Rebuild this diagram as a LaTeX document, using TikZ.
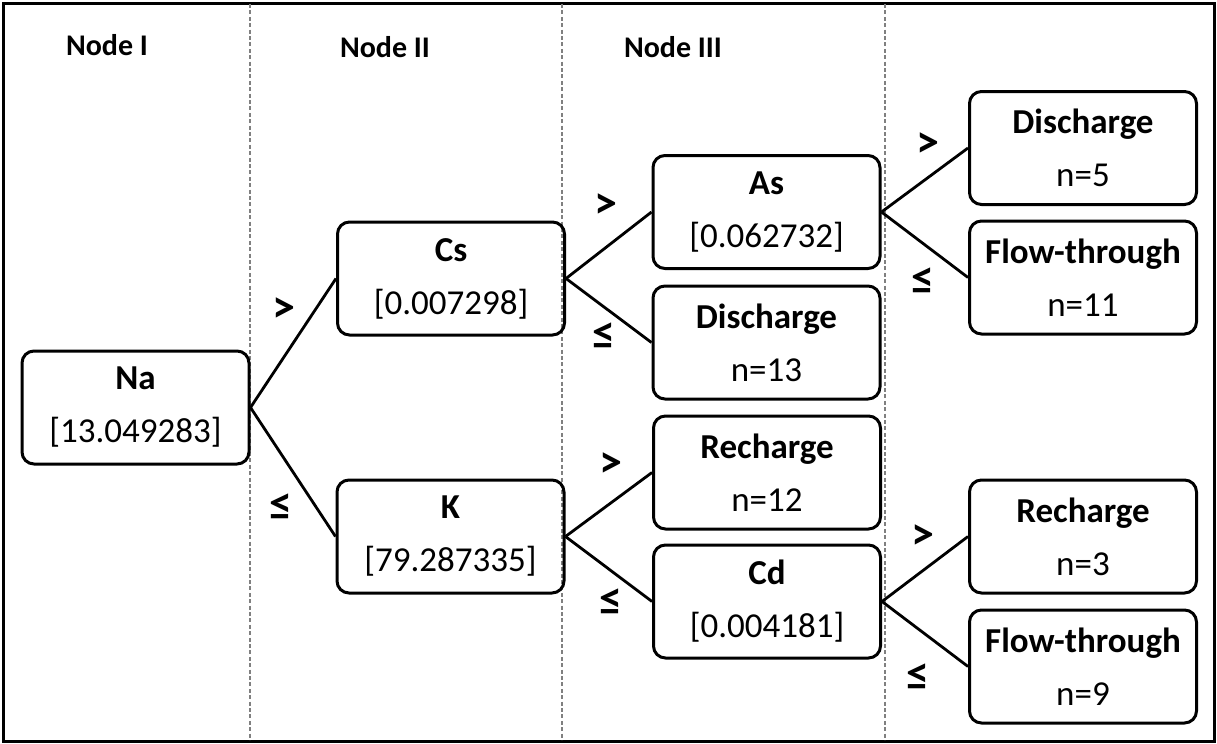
\documentclass[tikz,border=0pt]{standalone}
\usepackage{fontspec}
\setmainfont{Carlito}
\begin{document}
\begin{tikzpicture}[x=0.5pt,y=-0.5pt,
  box/.style={draw, line width=1.5pt, rounded corners=6pt, minimum width=113.5pt, minimum height=56.5pt, inner sep=0pt, align=center, font=\fontsize{17.5}{26.5}\selectfont},
  hdr/.style={font=\fontsize{15}{18}\selectfont\bfseries, inner sep=0pt},
  sgn/.style={font=\fontsize{23}{26}\selectfont\bfseries, inner sep=0pt},
  link/.style={line width=1.4pt},
  sep/.style={draw=gray, line width=0.6pt, dash pattern=on 2pt off 1.2pt},
  frame/.style={draw, line width=1.5pt}]
\useasboundingbox (0,0) rectangle (1217,744);
\draw[frame] (3,3) rectangle (1214,741);
\draw[sep] (250,4) -- (250,740);
\draw[sep] (562,4) -- (562,740);
\draw[sep] (885,4) -- (885,740);

\node[hdr] (h1) at (107,45) {Node I};
\node[hdr] (h2) at (385,47) {Node II};
\node[hdr] (h3) at (673,47) {Node III};

\node[box] (na) at (135.5,407.5) {\textbf{Na}\\{[13.049283]}};
\node[box] (cs) at (451,278.5) {\textbf{Cs}\\{[0.007298]}};
\node[box] (k) at (450.5,536.5) {\textbf{K}\\{[79.287335]}};
\node[box] (as) at (766.5,212) {\textbf{As}\\{[0.062732]}};
\node[box] (d13) at (766.5,342.5) {\textbf{Discharge}\\n=13};
\node[box] (r12) at (767,472.5) {\textbf{Recharge}\\n=12};
\node[box] (cd) at (767,601.5) {\textbf{Cd}\\{[0.004181]}};
\node[box] (d5) at (1083,148) {\textbf{Discharge}\\n=5};
\node[box] (f11) at (1083,277.5) {\textbf{Flow-through}\\n=11};
\node[box] (r3) at (1083,536.5) {\textbf{Recharge}\\n=3};
\node[box] (f9) at (1083,666.5) {\textbf{Flow-through}\\n=9};

\draw[link] (na.east) -- (cs.west);
\draw[link] (na.east) -- (k.west);
\draw[link] (cs.east) -- (as.west);
\draw[link] (cs.east) -- (d13.west);
\draw[link] (k.east) -- (r12.west);
\draw[link] (k.east) -- (cd.west);
\draw[link] (as.east) -- (d5.west);
\draw[link] (as.east) -- (f11.west);
\draw[link] (cd.east) -- (r3.west);
\draw[link] (cd.east) -- (f9.west);

\node[sgn] (g1) at (284,310) {>};
\node[sgn] (l1) at (281,507) {≤};
\node[sgn] (g2) at (606,206) {>};
\node[sgn] (l2) at (604,336) {≤};
\node[sgn] (g3) at (611,465) {>};
\node[sgn] (l3) at (611,602) {≤};
\node[sgn] (g4) at (928,145) {>};
\node[sgn] (l4) at (923,281) {≤};
\node[sgn] (g5) at (923,537) {>};
\node[sgn] (l5) at (918,677) {≤};
\end{tikzpicture}
\end{document}
